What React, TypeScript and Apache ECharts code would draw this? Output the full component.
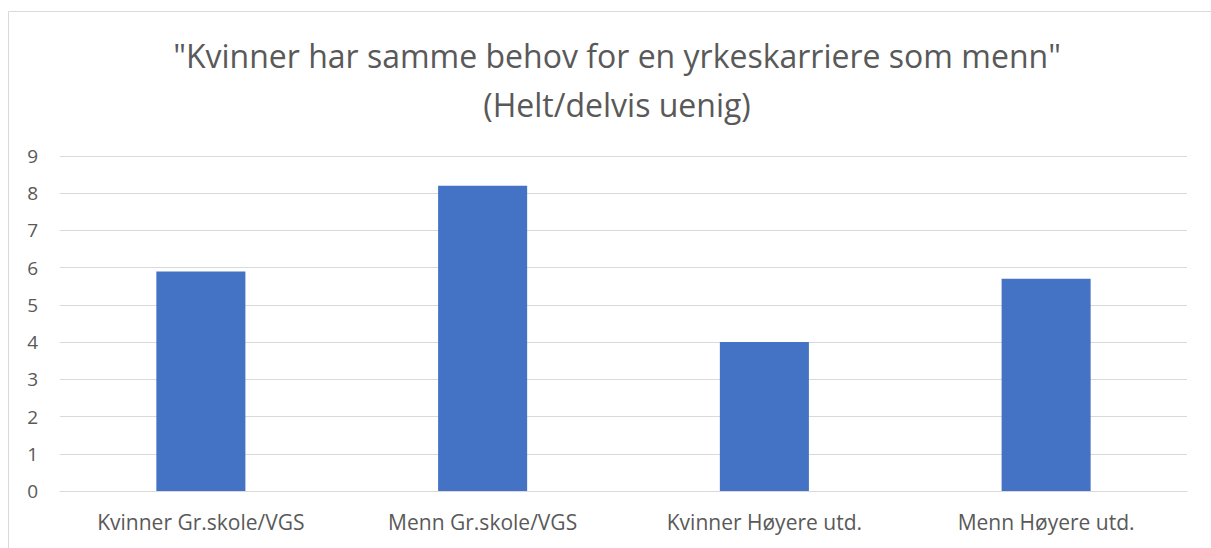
import React, { useEffect, useRef } from "react";
import * as echarts from "echarts";

const titleLines = ['"Kvinner har samme behov for en yrkeskarriere som menn"', "(Helt/delvis uenig)"];
const categories = ["Kvinner Gr.skole/VGS", "Menn Gr.skole/VGS", "Kvinner Høyere utd.", "Menn Høyere utd."];
const values = [5.9, 8.2, 4.0, 5.7];
const yTicks = { min: 0, max: 9, interval: 1 };

export default function App() {
  const ref = useRef<HTMLDivElement>(null);
  useEffect(() => {
    if (!ref.current) return;
    const chart = echarts.init(ref.current, undefined, { renderer: "svg" });
    const font = "'Open Sans', 'Noto Sans', sans-serif";
    chart.setOption({
      animation: false,
      backgroundColor: "#ffffff",
      title: {
        text: titleLines.join("\n"),
        left: 612,
        textAlign: "center",
        top: 26,
        textStyle: { fontFamily: font, fontSize: 32, fontWeight: "normal", color: "#595959", lineHeight: 49 },
      },
      graphic: [
        {
          type: "rect",
          shape: { x: 8.5, y: 11.5, width: 1220, height: 560 },
          style: { fill: "none", stroke: "#d9d9d9", lineWidth: 1 },
          silent: true,
        },
      ],
      grid: { left: 60, right: 24, top: 156, bottom: 57 },
      xAxis: {
        type: "category",
        data: categories,
        axisLine: { show: true, lineStyle: { color: "#d9d9d9", width: 1 } },
        axisTick: { show: false },
        axisLabel: { fontFamily: font, fontSize: 21, color: "#595959", margin: 20 },
      },
      yAxis: {
        type: "value",
        min: yTicks.min,
        max: yTicks.max,
        interval: yTicks.interval,
        axisLine: { show: false },
        axisTick: { show: false },
        splitLine: { lineStyle: { color: "#d9d9d9", width: 1 } },
        axisLabel: { fontFamily: font, fontSize: 19, color: "#595959", margin: 22 },
      },
      series: [
        {
          type: "bar",
          data: values,
          barWidth: "31.6%",
          itemStyle: { color: "#4472C4" },
        },
      ],
    });
    return () => chart.dispose();
  }, []);
  return <div ref={ref} style={{ position: "absolute", left: 0, top: 0, width: 1211, height: 548 }} />;
}
